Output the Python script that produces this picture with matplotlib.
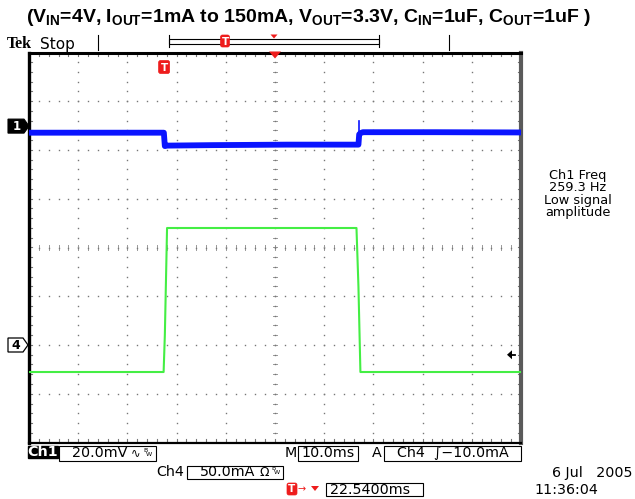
import numpy as np
import matplotlib
matplotlib.use("Agg")
import matplotlib.pyplot as plt
from matplotlib.patches import Rectangle, Polygon, FancyBboxPatch

plt.rcParams["mathtext.fontset"] = "custom"
plt.rcParams["mathtext.rm"] = "Liberation Sans:bold"
plt.rcParams["mathtext.it"] = "Liberation Sans:bold"
plt.rcParams["mathtext.bf"] = "Liberation Sans:bold"

W, H, DPI = 635, 499, 100

# ---- acquisition settings -------------------------------------------------
time_per_div = 10.0     # ms/div
trig_delay = 22.54      # ms, trigger point to screen centre
ch1_per_div = 20.0      # mV/div
ch4_per_div = 50.0      # mA/div
ch1_pos_div = 2.49      # Ch1 ground marker, divisions above centre
ch4_pos_div = -2.0      # Ch4 ground marker, divisions above centre
trig_level = -10.0      # mA

# ---- Ch1: output voltage, AC coupled (mV) vs time from trigger (ms) --------
ch1_time = [-27.46, -0.05, 0.15, 0.6, 10.0, 25.0, 39.5, 39.65, 39.9, 40.4,
            55.0, 72.54]
ch1_mv = [-2.7, -2.7, -8.2, -8.0, -7.8, -7.6, -7.6, -3.4, -2.9, -2.5,
          -2.5, -2.6]
# overshoot spike when the load is released
spike_time = [39.55, 39.55]
spike_mv = [-4.0, 2.0]

# ---- Ch4: load current (mA) vs time from trigger (ms) ----------------------
ch4_time = [-27.46, -0.1, 0.15, 0.6, 39.1, 39.5, 39.9, 72.54]
ch4_ma = [-27.7, -27.7, 10.0, 120.0, 120.0, 60.0, -27.7, -27.7]

# ---- status readouts -------------------------------------------------------
title = (r"(V$_{\mathrm{IN}}$=4V, I$_{\mathrm{OUT}}$=1mA to 150mA, "
         r"V$_{\mathrm{OUT}}$=3.3V, C$_{\mathrm{IN}}$=1uF, C$_{\mathrm{OUT}}$=1uF )")
meas_lines = ["Ch1 Freq", "259.3 Hz", "Low signal", "amplitude"]
ch1_label = "20.0mV"
ch4_label = "50.0mA"
time_label = "10.0ms"
trig_label = "Ch4  \u222b\u221210.0mA"
delay_label = "22.5400ms"
date_label = "6 Jul   2005"
clock_label = "11:36:04"

# ---- figure / graticule geometry ------------------------------------------
L, R, T, B = 29.0, 521.0, 52.5, 442.5
rect = [L / W, 1 - B / H, (R - L) / W, (B - T) / H]
px_div_x = (R - L) / 10
px_div_y = (B - T) / 8
yc = (T + B) / 2

fig = plt.figure(figsize=(W / DPI, H / DPI), dpi=DPI)
fig.patch.set_facecolor("white")

grat = fig.add_axes(rect)
grat.set_xlim(0, 10)
grat.set_ylim(-4, 4)
grat.set_xticks([])
grat.set_yticks([])
for side in ("left", "top", "bottom"):
    grat.spines[side].set_color("black")
grat.spines["left"].set_linewidth(2.4)
grat.spines["top"].set_linewidth(2.2)
grat.spines["bottom"].set_linewidth(1.6)
grat.spines["right"].set_color("#5a5a5a")
grat.spines["right"].set_linewidth(3.0)

dot_c = "#777777"
ys = np.arange(-4, 4.001, 0.2)
xs = np.arange(0, 10.001, 0.2)
for k in range(1, 10):
    if k == 5:
        continue
    grat.plot(np.full(ys.size, k), ys, ls="none", marker="s", ms=1.0,
              mec="none", mfc=dot_c)
for k in range(-3, 4):
    if k == 0:
        continue
    grat.plot(xs, np.full(xs.size, k), ls="none", marker="s", ms=1.0,
              mec="none", mfc=dot_c)
# centre cross with minor ticks
tk = 0.045
for x in xs:
    grat.plot([x, x], [-tk, tk], color="#999999", lw=0.7)
for y in ys:
    grat.plot([5 - tk * 0.8, 5 + tk * 0.8], [y, y], color="#999999", lw=0.7)
grat.plot(xs, np.zeros(xs.size), ls="none", marker="s", ms=1.0, mec="none", mfc=dot_c)
grat.plot(np.full(ys.size, 5), ys, ls="none", marker="s", ms=1.0, mec="none", mfc=dot_c)
# edge ticks
et = 0.07
for x in xs[1:-1]:
    grat.plot([x, x], [4, 4 - et], color=dot_c, lw=0.8)
    grat.plot([x, x], [-4, -4 + et], color=dot_c, lw=0.8)
for y in ys[1:-1]:
    grat.plot([0, et * 0.8], [y, y], color=dot_c, lw=0.8)
    grat.plot([10, 10 - et * 0.8], [y, y], color=dot_c, lw=0.8)

t0 = trig_delay - 5 * time_per_div
t1 = trig_delay + 5 * time_per_div

ax4 = fig.add_axes(rect)
ax4.set_xlim(t0, t1)
ax4.set_ylim((-4 - ch4_pos_div) * ch4_per_div, (4 - ch4_pos_div) * ch4_per_div)
ax4.axis("off")
ax4.plot(ch4_time, ch4_ma, color="#44ee44", lw=1.5)

ax1 = fig.add_axes(rect)
ax1.set_xlim(t0, t1)
ax1.set_ylim((-4 - ch1_pos_div) * ch1_per_div, (4 - ch1_pos_div) * ch1_per_div)
ax1.axis("off")
ax1.plot(ch1_time, ch1_mv, color="#0a14ff", lw=4.2)
ax1.plot(spike_time, spike_mv, color="#0a14ff", lw=1.2)

# ---- overlay in pixel coordinates for the screen annotations --------------
ov = fig.add_axes([0, 0, 1, 1])
ov.set_xlim(0, W)
ov.set_ylim(H, 0)
ov.axis("off")
ov.patch.set_alpha(0)

def x_of_time(t):
    return L + (t - t0) / time_per_div * px_div_x

red = "#ee1c1c"
mono = "DejaVu Sans"

ov.text(26, 17, title, ha="left", va="center", fontsize=14,
        family="Liberation Sans", weight="bold")
ov.text(7, 44, "Tek", ha="left", va="center", fontsize=11.5,
        family="Liberation Serif", weight="bold")
ov.text(40, 44, "Stop", ha="left", va="center", fontsize=11, family=mono)

# record-length bar
ov.plot([98, 98], [35, 50], color="black", lw=0.8)
ov.plot([449, 449], [35, 50], color="black", lw=0.8)
ov.add_patch(Rectangle((169, 38.5), 210, 5, fill=False, ec="black", lw=0.8))
ov.plot([169, 169], [35, 47], color="black", lw=0.8)
ov.plot([379, 379], [35, 47], color="black", lw=0.8)

def t_badge(x, y, w=9, h=12):
    ov.add_patch(FancyBboxPatch((x - w / 2, y - h / 2), w, h,
                                boxstyle="round,pad=0,rounding_size=2",
                                fc=red, ec=red, lw=0.5))
    ov.text(x, y + 0.5, "T", ha="center", va="center", color="white",
            fontsize=7.5, weight="bold", family="DejaVu Sans")

t_badge(225, 41)
ov.add_patch(Polygon([[270.5, 34.5], [277.5, 34.5], [274, 38.5]], closed=True,
                     fc=red, ec="none"))

# trigger position marks on the graticule
xc = x_of_time(trig_delay)
ov.add_patch(Polygon([[xc - 6, T - 1], [xc + 6, T - 1], [xc, T + 6]],
                     closed=True, fc=red, ec="none"))
t_badge(x_of_time(0.0), 67, w=11, h=13)

# channel ground markers
y1 = yc - ch1_pos_div * px_div_y
ov.add_patch(Polygon([[8, y1 - 7], [24, y1 - 7], [29, y1], [24, y1 + 7], [8, y1 + 7]],
                     closed=True, fc="black", ec="black", lw=0.8))
ov.text(16.5, y1 + 0.5, "1", ha="center", va="center", color="white",
        fontsize=8.5, weight="bold", family=mono)
y4 = yc - ch4_pos_div * px_div_y
ov.add_patch(Polygon([[8, y4 - 7], [23, y4 - 7], [28, y4], [23, y4 + 7], [8, y4 + 7]],
                     closed=True, fc="white", ec="black", lw=0.9))
ov.text(16, y4 + 0.5, "4", ha="center", va="center", color="black",
        fontsize=9, weight="bold", family=mono)

# trigger level arrow on the right edge
yt = yc - (ch4_pos_div + trig_level / ch4_per_div) * px_div_y
ov.add_patch(Polygon([[507, yt], [512, yt - 4.5], [512, yt + 4.5]], closed=True,
                     fc="black", ec="none"))
ov.plot([511, 515], [yt, yt], color="black", lw=1.3)

# measurement readout
ov.text(578, 194, "\n".join(meas_lines), ha="center", va="center",
        multialignment="center", fontsize=9.3, linespacing=0.92, family=mono)

# ---- bottom status bar -----------------------------------------------------
fs = 10.3
ov.add_patch(Rectangle((27.5, 445.5), 30.5, 12, fc="black", ec="black"))
ov.text(42.75, 451.5, "Ch1", ha="center", va="center", color="white",
        fontsize=fs, weight="bold", family=mono)

def box(x0, x1, y0, y1):
    ov.add_patch(Rectangle((x0, y0), x1 - x0, y1 - y0, fill=False,
                           ec="black", lw=0.8))

def bw(x, y):
    ov.text(x, y - 3, "B", fontsize=4.5, ha="left", va="center", family=mono)
    ov.text(x + 3, y + 1, "W", fontsize=4.5, ha="left", va="center", family=mono)

box(58.5, 156, 445.5, 460.5)
ov.text(72, 453, ch1_label, ha="left", va="center", fontsize=fs, family=mono)
ov.text(131, 453, "\u223f", ha="left", va="center", fontsize=fs - 2, family=mono)
bw(143, 453)

ov.text(285, 453, "M", ha="left", va="center", fontsize=fs, family=mono)
box(298, 358, 445.5, 460.5)
ov.text(301, 453, time_label, ha="left", va="center", fontsize=fs, family=mono)

ov.text(372, 453, "A", ha="left", va="center", fontsize=fs, family=mono)
box(384, 521, 445.5, 460.5)
ov.text(397, 453, trig_label, ha="left", va="center", fontsize=fs, family=mono)

ov.text(156, 472, "Ch4", ha="left", va="center", fontsize=fs, family=mono)
box(187, 283, 465.5, 478.5)
ov.text(200, 472, ch4_label, ha="left", va="center", fontsize=fs, family=mono)
ov.text(259, 472, "\u03a9", ha="left", va="center", fontsize=fs - 1.5, family=mono)
bw(271, 472)

t_badge(292, 489, w=10, h=12)
ov.text(297, 489, "\u2192", ha="left", va="center", color=red, fontsize=7,
        family=mono)
ov.add_patch(Polygon([[311, 486], [319, 486], [315, 491]], closed=True,
                     fc=red, ec="none"))
box(326, 423, 482.5, 496)
ov.text(330, 489.5, delay_label, ha="left", va="center", fontsize=fs, family=mono)

ov.text(632, 473, date_label, ha="right", va="center", fontsize=fs, family=mono)
ov.text(534, 490, clock_label, ha="left", va="center", fontsize=fs, family=mono)

fig.savefig("out.png", dpi=DPI, facecolor="white")
